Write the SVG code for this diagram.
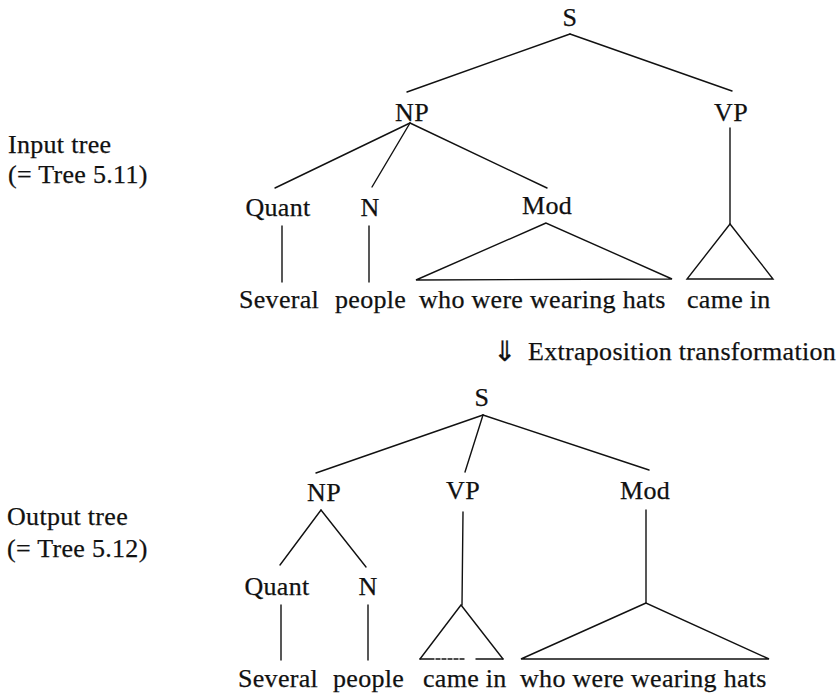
<svg xmlns="http://www.w3.org/2000/svg" width="840" height="695" viewBox="0 0 840 695">
<style>
text{font-family:"Liberation Serif","Times New Roman",serif;font-size:26px;fill:#111;letter-spacing:0.3px;stroke:#111;stroke-width:0.25}
.c{text-anchor:middle}
.arrow{font-size:28px}
line,polyline,polygon{stroke:#111;stroke-width:1.4;fill:none;stroke-linecap:round;stroke-linejoin:miter}
</style>
<rect width="840" height="695" fill="#fff"/>
<g id="side-labels">
<text x="8" y="153">Input tree</text>
<text x="8" y="183">(= Tree 5.11)</text>
<text x="7" y="525">Output tree</text>
<text x="7" y="557">(= Tree 5.12)</text>
</g>
<g id="transform-label">
<text class="arrow" x="493" y="361">⇓</text>
<text x="528" y="360">Extraposition transformation</text>
</g>
<g id="connectors">
<line x1="570" y1="34" x2="407" y2="92"/>
<line x1="570" y1="34" x2="732" y2="91"/>
<line x1="410" y1="123" x2="275" y2="188"/>
<line x1="410" y1="123" x2="372" y2="187"/>
<line x1="410" y1="123" x2="547" y2="188"/>
<line x1="282" y1="226" x2="282" y2="282"/>
<line x1="369" y1="226" x2="369" y2="282"/>
<line x1="730" y1="128" x2="730" y2="224"/>
<line x1="483" y1="415" x2="316" y2="473"/>
<line x1="483" y1="415" x2="465" y2="472"/>
<line x1="483" y1="415" x2="649" y2="470"/>
<line x1="321" y1="510" x2="280" y2="565"/>
<line x1="321" y1="510" x2="366" y2="567"/>
<line x1="281" y1="605" x2="281" y2="660"/>
<line x1="368" y1="605" x2="368" y2="660"/>
<line x1="463" y1="512" x2="462" y2="605"/>
<line x1="646" y1="510" x2="646" y2="603"/>
</g>
<g id="in-S"><text class="c" x="570" y="26">S</text></g>
<g id="in-NP"><text class="c" x="412" y="121">NP</text></g>
<g id="in-VP"><text class="c" x="731" y="121">VP</text>
<polygon points="730,224 687,279 773,279"/></g>
<g id="in-Quant"><text class="c" x="278" y="216">Quant</text></g>
<g id="in-N"><text class="c" x="370" y="216">N</text></g>
<g id="in-Mod"><text class="c" x="547" y="214">Mod</text>
<polygon points="546,223 416,280 672,279"/></g>
<g id="in-leaves">
<text x="239" y="308">Several</text>
<text x="335" y="308">people</text>
<text x="419" y="308">who were wearing hats</text>
<text x="687" y="308">came in</text>
</g>
<g id="out-S"><text class="c" x="482" y="406">S</text></g>
<g id="out-NP"><text class="c" x="324" y="501">NP</text></g>
<g id="out-VP"><text class="c" x="463" y="499">VP</text>
<polyline points="420,659 461,605 503,659"/>
<line x1="420" y1="659" x2="503" y2="659" stroke-dasharray="14 2 4 2 4 2 4 2 4 2 4 12 27" stroke-linecap="butt"/></g>
<g id="out-Mod"><text class="c" x="645" y="499">Mod</text>
<polygon points="646,603 521,659 769,659"/></g>
<g id="out-Quant"><text class="c" x="277" y="595">Quant</text></g>
<g id="out-N"><text class="c" x="368" y="595">N</text></g>
<g id="out-leaves">
<text x="238" y="687">Several</text>
<text x="333" y="687">people</text>
<text x="423" y="687">came in</text>
<text x="520" y="687">who were wearing hats</text>
</g>
</svg>
